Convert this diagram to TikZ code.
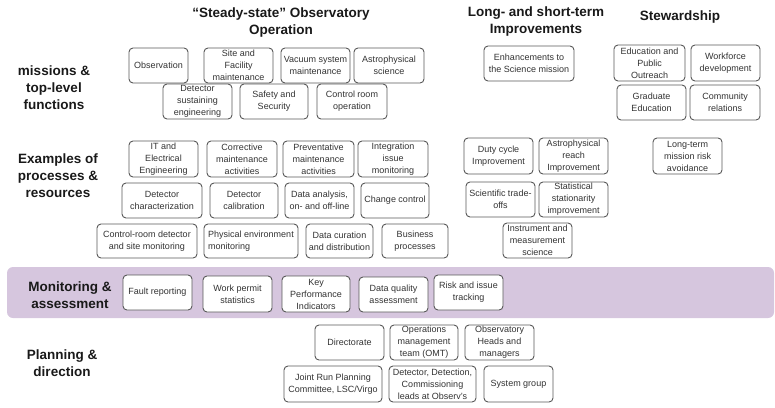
\documentclass[tikz,border=0pt]{standalone}
\usepackage{fontspec}
\setmainfont{Liberation Sans}
\definecolor{bandpurple}{RGB}{214,198,222}
\definecolor{boxline}{RGB}{88,88,88}

\begin{document}
\begin{tikzpicture}[x=1pt,y=-1pt,
  box/.style={draw=boxline, line width=0.9pt, rounded corners=4pt, fill=white,
    align=center, inner sep=1pt, minimum width=69pt, minimum height=35pt,
    font=\fontsize{9}{12}\selectfont, text=black!80},
  heading/.style={align=center, font=\fontsize{13.5}{17}\selectfont\bfseries, text=black!90}]
\useasboundingbox (0,0) rectangle (775,407);

% The monitoring row sits on a purple band, drawn first:
\fill [bandpurple, rounded corners=6pt] (7,267) rectangle (774,318);

% column headings
\node [heading] (steady) at (281,23) {``Steady-state'' Observatory\\Operation};
\node [heading] (improve) at (536,22) {Long- and short-term\\Improvements};
\node [heading] (steward) at (680,17) {Stewardship};

% row headings
\node [heading] (missions) at (54,88) {missions \&\\top-level\\functions};
\node [heading] (examples) at (58,176) {Examples of\\processes \&\\resources};
\node [heading] (monitoring) at (70,295) {Monitoring \&\\assessment};
\node [heading] (planning) at (62,363) {Planning \&\\direction};

% missions & top-level functions
\node [box, minimum width=59pt] (obs) at (158.5,65.5) {Observation};
\node [box] (site) at (238.5,65.5) {Site and\\Facility\\maintenance};
\node [box] (vacuum) at (315.5,65.5) {Vacuum system\\maintenance};
\node [box, minimum width=70pt] (astrosci) at (389,65.5) {Astrophysical\\science};
\node [box] (detsust) at (197.5,101.5) {Detector\\sustaining\\engineering};
\node [box, minimum width=68pt] (safety) at (274,101.5) {Safety and\\Security};
\node [box, minimum width=70pt] (ctrlroom) at (352,101.5) {Control room\\operation};
\node [box, minimum width=90pt] (enhance) at (529,63.5) {Enhancements to\\the Science mission};
\node [box, minimum width=71pt, minimum height=36pt] (epo) at (649.5,63) {Education and\\Public\\Outreach};
\node [box, minimum height=36pt] (workforce) at (725.5,63) {Workforce\\development};
\node [box] (gradedu) at (651.5,102.5) {Graduate\\Education};
\node [box, minimum width=70pt] (community) at (725,102.5) {Community\\relations};

% examples of processes & resources
\node [box, minimum height=36pt] (itee) at (163.5,159) {IT and\\Electrical\\Engineering};
\node [box, minimum width=70pt, minimum height=36pt] (corrective) at (242,159) {Corrective\\maintenance\\activities};
\node [box, minimum width=71pt, minimum height=36pt] (preventative) at (318.5,159) {Preventative\\maintenance\\activities};
\node [box, minimum width=70pt, minimum height=36pt] (integration) at (393,159) {Integration\\issue\\monitoring};
\node [box, minimum width=80pt] (detchar) at (162,200.5) {Detector\\characterization};
\node [box, minimum width=68pt] (detcal) at (244,200.5) {Detector\\calibration};
\node [box] (dataana) at (319.5,200.5) {Data analysis,\\on- and off-line};
\node [box, minimum width=68pt] (change) at (395,200.5) {Change control};
\node [box, minimum width=100pt, minimum height=34pt] (crmon) at (147,241) {Control-room detector\\and site monitoring};
\node [box, minimum width=94pt, minimum height=34pt, align=left] (physenv) at (251,241) {Physical environment\\monitoring};
\node [box, minimum width=67pt, minimum height=34pt] (datacur) at (339.5,241) {Data curation\\and distribution};
\node [box, minimum width=66pt, minimum height=34pt] (business) at (415,241) {Business\\processes};
\node [box, minimum height=36pt] (dutycycle) at (498.5,156) {Duty cycle\\Improvement};
\node [box, minimum height=36pt] (astroreach) at (573.5,156) {Astrophysical\\reach\\Improvement};
\node [box] (tradeoffs) at (500.5,199.5) {Scientific trade-\\offs};
\node [box] (stationarity) at (573.5,199.5) {Statistical\\stationarity\\improvement};
\node [box] (instrument) at (537.5,240.5) {Instrument and\\measurement\\science};
\node [box, minimum height=36pt] (riskavoid) at (687.5,156) {Long-term\\mission risk\\avoidance};

% monitoring & assessment
\node [box] (fault) at (157.5,292.5) {Fault reporting};
\node [box, minimum height=36pt] (permit) at (237.5,294) {Work permit\\statistics};
\node [box, minimum width=68pt, minimum height=36pt] (kpi) at (316,294) {Key\\Performance\\Indicators};
\node [box] (dqa) at (393.5,294.5) {Data quality\\assessment};
\node [box] (risktrack) at (468.5,292.5) {Risk and issue\\tracking};

% planning & direction
\node [box] (directorate) at (349.5,342.5) {Directorate};
\node [box, minimum width=68pt] (omt) at (424,342.5) {Operations\\management\\team (OMT)};
\node [box] (heads) at (499.5,342.5) {Observatory\\Heads and\\managers};
\node [box, minimum width=98pt, minimum height=36pt] (jrpc) at (333,384) {Joint Run Planning\\Committee, LSC/Virgo};
\node [box, minimum width=87pt, minimum height=36pt] (leads) at (432.5,384) {Detector, Detection,\\Commissioning\\leads at Observ's};
\node [box, minimum height=36pt] (sysgroup) at (518.5,384) {System group};

\end{tikzpicture}
\end{document}
